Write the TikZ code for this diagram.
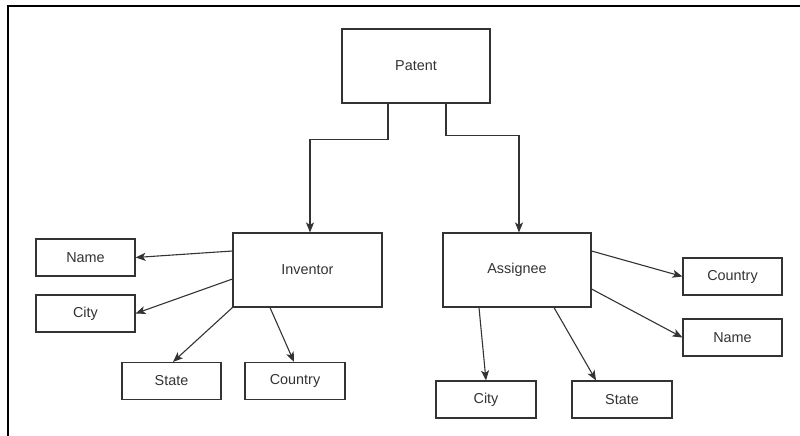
\documentclass[tikz,border=0pt]{standalone}
\usepackage{fontspec}
\setmainfont{Liberation Sans}
\usetikzlibrary{arrows.meta}
\definecolor{ink}{HTML}{333333}
\begin{document}
\begin{tikzpicture}[x=1pt,y=-1pt,
  entity/.style={draw=ink, line width=1.1pt, fill=white, text=ink,
    font=\fontsize{14.4pt}{16pt}\selectfont, inner sep=0pt,
    minimum width=149pt, minimum height=74pt},
  attr/.style={entity, minimum width=99pt, minimum height=37pt},
  link/.style={draw=ink, line width=1.1pt,
    -{Stealth[length=10pt,width=8pt,inset=2.5pt]}}]
  \useasboundingbox (0,0) rectangle (800,436);
  % open frame: top and left edges
  \draw[line width=2pt] (7.5,436) -- (7.5,6) -- (800,6);

  % main entities
  \node[entity, minimum width=148pt] (pat) at (416,66) {Patent};
  \node[entity] (inv) at (307.5,270) {Inventor};
  \node[entity, minimum width=148pt] (asg) at (517,270) {Assignee};

  % inventor attributes
  \node[attr] (nameL) at (85.5,257.5) {Name};
  \node[attr] (cityL) at (85.5,313.5) {City};
  \node[attr] (stateL) at (171.5,381) {State};
  \node[attr, minimum width=100pt] (countryL) at (295,381) {Country};

  % assignee attributes
  \node[attr] (countryR) at (732.5,276.5) {Country};
  \node[attr] (nameR) at (732.5,337.5) {Name};
  \node[attr, minimum width=100pt] (cityB) at (486,399.5) {City};
  \node[attr, minimum width=100pt] (stateB) at (622,399.5) {State};

  % patent to its parties
  \draw[link] ([xshift=-28pt]pat.south) -- ++(0,36) -| ([xshift=2.5pt]inv.north);
  \draw[link] ([xshift=30pt]pat.south) -- ++(0,32) -| ([xshift=2pt]asg.north);

  % inventor links
  \draw[link] ([yshift=19pt]inv.west) -- (nameL.east);
  \draw[link] ([yshift=-9pt]inv.west) -- (cityL.east);
  \draw[link] (inv.south west) -- ([xshift=1.5pt]stateL.north);
  \draw[link] ([xshift=-37.5pt]inv.south) -- ([xshift=-1pt]countryL.north);

  % assignee links
  \draw[link] ([yshift=19pt]asg.east) -- (countryR.west);
  \draw[link] ([yshift=-19pt]asg.east) -- (nameR.west);
  \draw[link] ([xshift=-38pt]asg.south) -- (cityB.north);
  \draw[link] ([xshift=37pt]asg.south) -- ([xshift=-26pt]stateB.north);
\end{tikzpicture}
\end{document}
